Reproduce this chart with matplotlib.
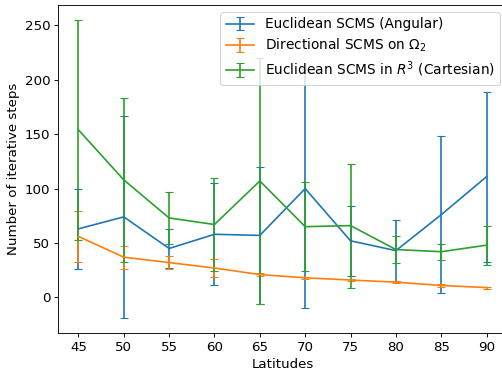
import numpy as np
import matplotlib
matplotlib.use("Agg")
import matplotlib.pyplot as plt

plt.rcParams["font.size"] = 12

latitudes = [45, 50, 55, 60, 65, 70, 75, 80, 85, 90]

# Euclidean SCMS (Angular)
euc_ang_mean = [63, 74, 45, 58, 57, 100, 52, 43, 76, 111]
euc_ang_std = [37, 93, 18, 47, 63, 110, 32, 28, 72, 78]

# Directional SCMS on Omega_2
dir_mean = [56, 37, 32, 27, 21, 18, 16, 14, 11, 9]
dir_std = [23.5, 10.7, 5.6, 8.5, 1.5, 1.0, 1.0, 1.0, 1.0, 1.0]

# Euclidean SCMS in R^3 (Cartesian)
euc_cart_mean = [154, 108, 73, 67, 107, 65, 66, 44, 42, 48]
euc_cart_std = [101, 75, 24, 43, 113, 41, 57, 12, 7.5, 18]

dpi = 80
fig = plt.figure(figsize=(502 / dpi, 373 / dpi), dpi=dpi)
ax = fig.add_axes([58 / 502, 40 / 373, 449 / 502, 328 / 373])

ax.errorbar(latitudes, euc_ang_mean, yerr=euc_ang_std, capsize=4,
            label="Euclidean SCMS (Angular)")
ax.errorbar(latitudes, dir_mean, yerr=dir_std, capsize=4,
            label=r"Directional SCMS on $\Omega_2$")
ax.errorbar(latitudes, euc_cart_mean, yerr=euc_cart_std, capsize=4,
            label=r"Euclidean SCMS in $R^3$ (Cartesian)")

ax.set_xticks(latitudes)
ax.set_xlabel("Latitudes")
ax.set_ylabel("Number of iterative steps")
ax.legend(loc="upper right", fontsize=12.4, labelspacing=0.4)

fig.savefig("out.png", dpi=dpi)
